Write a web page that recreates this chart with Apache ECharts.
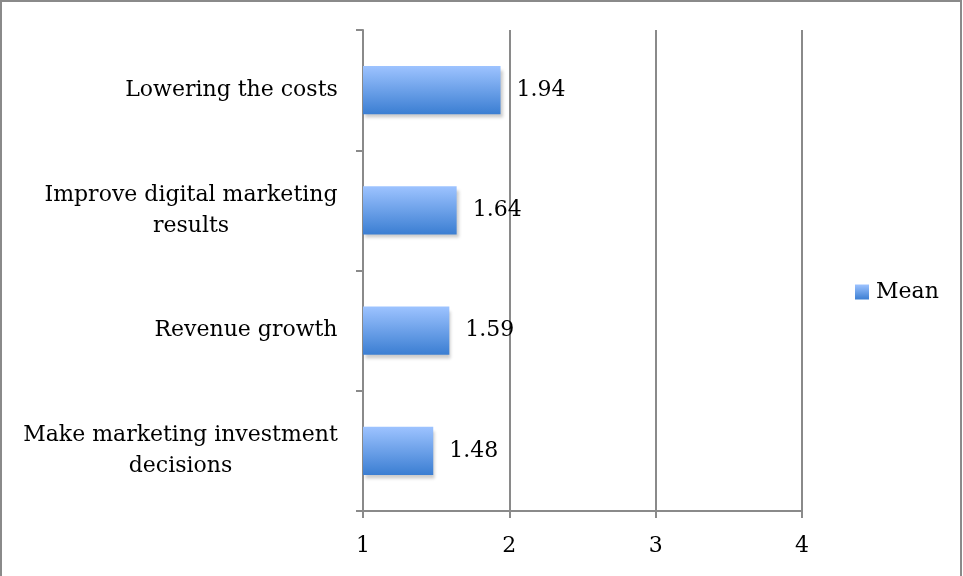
<!DOCTYPE html>
<html><head><meta charset="utf-8">
<script src="https://cdn.jsdelivr.net/npm/echarts@6/dist/echarts.min.js"></script>
<style>html,body{margin:0;padding:0;background:#fff}#c{width:963px;height:576px}</style>
</head><body><div id="c"></div>
<script>
const categories = ["Lowering the costs", "Improve digital marketing\nresults", "Revenue growth", "Make marketing investment\ndecisions"];
const meanValues = [1.94, 1.64, 1.59, 1.48];
const xTicks = [1, 2, 3, 4];
const seriesName = "Mean";

const font = "DejaVu Serif";
const fs = 22;
const cv = document.createElement("canvas").getContext("2d");
cv.font = fs + "px '" + font + "'";
const rich = {};
const labelFmt = {};
categories.forEach((c, i) => {
  const lines = c.split("\n");
  const w = Math.ceil(Math.max(...lines.map(l => cv.measureText(l).width)));
  const key = "c" + i;
  rich[key] = {width: w, align: "center", fontFamily: font, fontSize: fs, color: "#000", lineHeight: 31};
  labelFmt[c] = lines.map(l => "{" + key + "|" + l + "}").join("\n");
});
const grad = new echarts.graphic.LinearGradient(0, 0, 0, 1, [
  {offset: 0, color: "#9dc3ff"},
  {offset: 1, color: "#3b7ed2"}
]);
const chart = echarts.init(document.getElementById('c'));
chart.setOption({
  animation: false,
  backgroundColor: "#fff",
  textStyle: {fontFamily: font},
  grid: {left: 363, right: 161, top: 30, bottom: 65, containLabel: false},
  legend: {
    data: [seriesName], left: 850, top: 276, orient: "vertical",
    itemWidth: 14, itemHeight: 15, itemGap: 5,
    textStyle: {fontFamily: font, fontSize: fs, color: "#000", padding: [0, 0, 0, 2]},
    icon: "rect"
  },
  xAxis: {
    type: "value", min: xTicks[0], max: xTicks[xTicks.length-1], interval: 1,
    axisLine: {show: true, lineStyle: {color: "#8a8a8a", width: 2}},
    axisTick: {show: true, length: 7, lineStyle: {color: "#8a8a8a", width: 2}},
    splitLine: {show: true, lineStyle: {color: "#8a8a8a", width: 2}},
    axisLabel: {fontFamily: font, fontSize: fs, color: "#000", margin: 24}
  },
  yAxis: {
    type: "category", data: categories, inverse: true,
    axisLine: {show: true, lineStyle: {color: "#8a8a8a", width: 2}},
    axisTick: {show: true, length: 7, lineStyle: {color: "#8a8a8a", width: 2}},
    axisLabel: {fontFamily: font, fontSize: fs, color: "#000", margin: 25, lineHeight: 31, align: "right",
      formatter: v => labelFmt[v], rich: rich}
  },
  series: [{
    name: seriesName, type: "bar", data: meanValues, barCategoryGap: "60%",
    itemStyle: {color: grad, shadowColor: "rgba(0,0,0,0.2)", shadowBlur: 3, shadowOffsetX: 2, shadowOffsetY: 4},
    label: {show: true, position: "right", distance: 16, fontFamily: font, fontSize: fs, color: "#000",
      formatter: p => p.value.toFixed(2)}
  }],
  graphic: [{type: "rect", shape: {x: 1, y: 1, width: 960, height: 580}, style: {fill: "none", stroke: "#8a8a8a", lineWidth: 2}, silent: true}]
});
</script></body></html>
